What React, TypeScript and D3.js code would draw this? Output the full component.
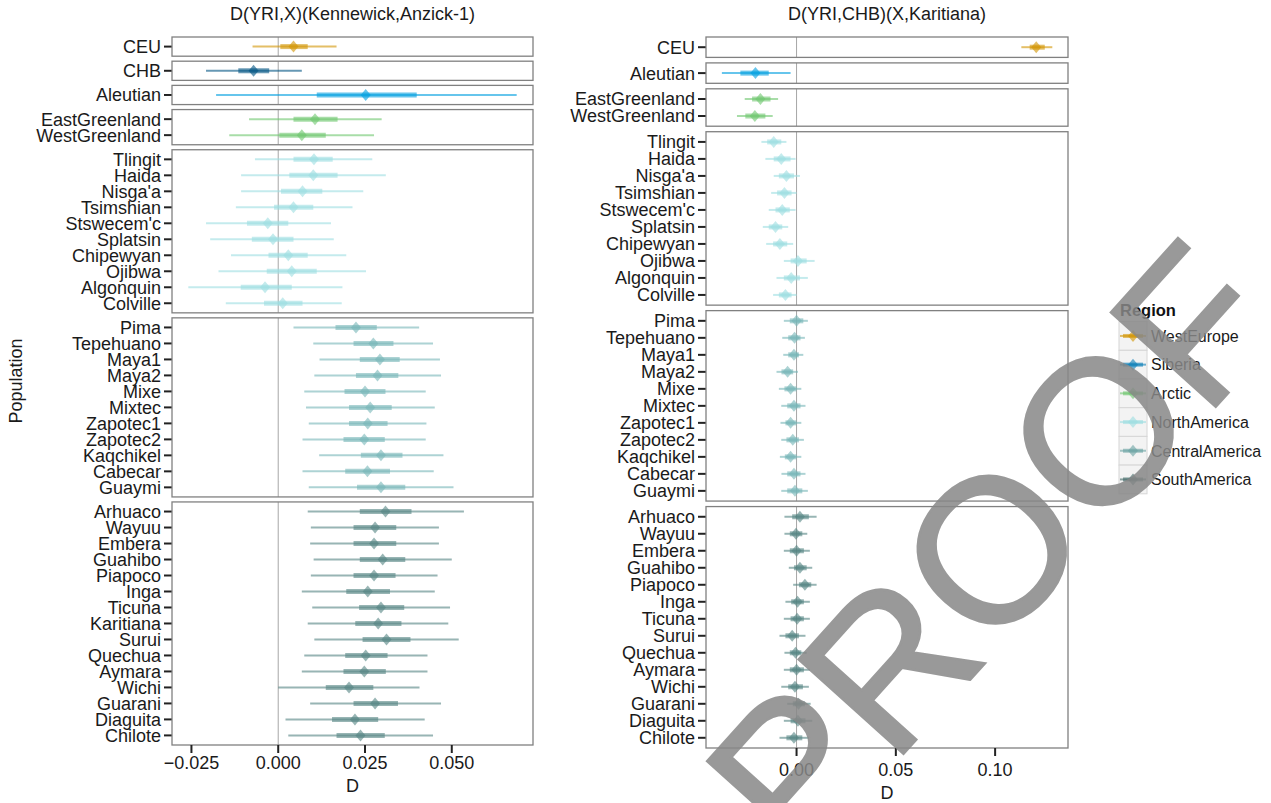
import React from "react";
import * as d3 from "d3";

const W = 1271;
const H = 803;

// ---- populations per facet ----
const westEurope = ["CEU"];
const eastAsia = ["CHB"];
const siberia = ["Aleutian"];
const arctic = ["EastGreenland", "WestGreenland"];
const northAmerica = ["Tlingit", "Haida", "Nisga'a", "Tsimshian", "Stswecem'c", "Splatsin", "Chipewyan", "Ojibwa", "Algonquin", "Colville"];
const centralAmerica = ["Pima", "Tepehuano", "Maya1", "Maya2", "Mixe", "Mixtec", "Zapotec1", "Zapotec2", "Kaqchikel", "Cabecar", "Guaymi"];
const southAmericaLeft = ["Arhuaco", "Wayuu", "Embera", "Guahibo", "Piapoco", "Inga", "Ticuna", "Karitiana", "Surui", "Quechua", "Aymara", "Wichi", "Guarani", "Diaguita", "Chilote"];
const southAmericaRight = ["Arhuaco", "Wayuu", "Embera", "Guahibo", "Piapoco", "Inga", "Ticuna", "Surui", "Quechua", "Aymara", "Wichi", "Guarani", "Diaguita", "Chilote"];

// ---- left: D(YRI,X)(Kennewick,Anzick-1) ----
const leftMid = [0.0044, -0.0071, 0.0252, 0.0106, 0.0068,
  0.0103, 0.0101, 0.0070, 0.0044, -0.0030, -0.0015, 0.0029, 0.0039, -0.0038, 0.0013,
  0.0224, 0.0274, 0.0293, 0.0286, 0.0250, 0.0265, 0.0258, 0.0248, 0.0296, 0.0257, 0.0296,
  0.0309, 0.0279, 0.0276, 0.0301, 0.0276, 0.0258, 0.0296, 0.0288, 0.0312, 0.0252, 0.0248, 0.0204, 0.0279, 0.0221, 0.0237];
const leftInnerLo = [0.0006, -0.0115, 0.0111, 0.0044, 0.0003,
  0.0044, 0.0032, 0.0008, -0.0012, -0.0090, -0.0076, -0.0028, -0.0033, -0.0108, -0.0041,
  0.0165, 0.0217, 0.0235, 0.0224, 0.0191, 0.0204, 0.0204, 0.0188, 0.0238, 0.0193, 0.0227,
  0.0235, 0.0217, 0.0217, 0.0235, 0.0217, 0.0196, 0.0233, 0.0222, 0.0243, 0.0193, 0.0188, 0.0137, 0.0217, 0.0155, 0.0168];
const leftInnerHi = [0.0085, -0.0026, 0.0399, 0.0171, 0.0137,
  0.0157, 0.0171, 0.0127, 0.0101, 0.0029, 0.0044, 0.0085, 0.0111, 0.0039, 0.0070,
  0.0284, 0.0332, 0.0350, 0.0346, 0.0309, 0.0327, 0.0315, 0.0307, 0.0358, 0.0322, 0.0366,
  0.0384, 0.0340, 0.0340, 0.0366, 0.0338, 0.0322, 0.0363, 0.0355, 0.0381, 0.0315, 0.0310, 0.0274, 0.0345, 0.0288, 0.0307];
const leftOuterLo = [-0.0074, -0.0208, -0.0179, -0.0084, -0.0141,
  -0.0067, -0.0107, -0.0107, -0.0122, -0.0208, -0.0196, -0.0136, -0.0172, -0.0259, -0.0151,
  0.0044, 0.0101, 0.0119, 0.0104, 0.0075, 0.0080, 0.0088, 0.0070, 0.0118, 0.0070, 0.0088,
  0.0085, 0.0094, 0.0092, 0.0102, 0.0094, 0.0068, 0.0098, 0.0085, 0.0104, 0.0075, 0.0068, 0.0000, 0.0092, 0.0021, 0.0029];
const leftOuterHi = [0.0168, 0.0068, 0.0687, 0.0298, 0.0276,
  0.0271, 0.0310, 0.0245, 0.0214, 0.0152, 0.0160, 0.0196, 0.0253, 0.0185, 0.0183,
  0.0406, 0.0446, 0.0466, 0.0469, 0.0425, 0.0451, 0.0427, 0.0425, 0.0476, 0.0448, 0.0505,
  0.0535, 0.0463, 0.0463, 0.0500, 0.0459, 0.0451, 0.0495, 0.0490, 0.0520, 0.0430, 0.0430, 0.0407, 0.0469, 0.0422, 0.0446];

// ---- right: D(YRI,CHB)(X,Karitiana) ----
const rightMid = [0.1207, -0.0207, -0.0182, -0.0210,
  -0.0115, -0.0077, -0.0051, -0.0061, -0.0072, -0.0106, -0.0084, 0.0007, -0.0027, -0.0056,
  0.0000, -0.0010, -0.0013, -0.0045, -0.0030, -0.0013, -0.0030, -0.0019, -0.0030, -0.0013, -0.0008,
  0.0017, -0.0003, 0.0000, 0.0017, 0.0042, 0.0005, 0.0003, -0.0022, -0.0005, 0.0000, -0.0008, 0.0010, 0.0007, -0.0013];
const rightInnerLo = [0.1174, -0.0283, -0.0224, -0.0258,
  -0.0148, -0.0115, -0.0089, -0.0098, -0.0106, -0.0140, -0.0118, -0.0030, -0.0064, -0.0089,
  -0.0034, -0.0042, -0.0042, -0.0076, -0.0061, -0.0047, -0.0056, -0.0051, -0.0059, -0.0047, -0.0047,
  -0.0022, -0.0034, -0.0034, -0.0013, 0.0012, -0.0027, -0.0030, -0.0056, -0.0034, -0.0034, -0.0042, -0.0019, -0.0030, -0.0051];
const rightInnerHi = [0.1250, -0.0140, -0.0131, -0.0157,
  -0.0077, -0.0030, -0.0013, -0.0025, -0.0034, -0.0072, -0.0047, 0.0051, 0.0017, -0.0025,
  0.0034, 0.0020, 0.0012, -0.0017, 0.0000, 0.0020, 0.0000, 0.0012, 0.0000, 0.0020, 0.0029,
  0.0062, 0.0029, 0.0037, 0.0051, 0.0074, 0.0037, 0.0037, 0.0012, 0.0024, 0.0037, 0.0032, 0.0042, 0.0045, 0.0029];
const rightOuterLo = [0.1132, -0.0376, -0.0261, -0.0300,
  -0.0177, -0.0157, -0.0115, -0.0128, -0.0140, -0.0170, -0.0153, -0.0064, -0.0101, -0.0118,
  -0.0064, -0.0072, -0.0067, -0.0101, -0.0089, -0.0077, -0.0081, -0.0077, -0.0084, -0.0076, -0.0077,
  -0.0061, -0.0061, -0.0064, -0.0039, -0.0017, -0.0056, -0.0064, -0.0086, -0.0061, -0.0064, -0.0077, -0.0047, -0.0064, -0.0086];
const rightOuterHi = [0.1288, -0.0030, -0.0093, -0.0120,
  -0.0051, -0.0005, 0.0017, 0.0000, -0.0005, -0.0042, -0.0017, 0.0091, 0.0057, 0.0000,
  0.0057, 0.0042, 0.0034, 0.0007, 0.0024, 0.0045, 0.0024, 0.0037, 0.0024, 0.0045, 0.0057,
  0.0101, 0.0054, 0.0067, 0.0079, 0.0101, 0.0067, 0.0067, 0.0045, 0.0051, 0.0067, 0.0062, 0.0071, 0.0079, 0.0062];

// ---- axis ticks ----
const leftTicks = [-0.025, 0, 0.025, 0.05];
const leftTickLabels = ["\u22120.025", "0.000", "0.025", "0.050"];
const rightTicks = [0, 0.05, 0.1];
const rightTickLabels = ["0.00", "0.05", "0.10"];

// ---- colours ----
const regionColors: Record<string, string> = {
  WestEurope: "#d29401",
  EastAsia: "#005482",
  Siberia: "#009fdf",
  Arctic: "#6ec66e",
  NorthAmerica: "#9ddee1",
  CentralAmerica: "#76b6b8",
  SouthAmerica: "#548482",
};
const legendRegions = ["WestEurope", "Siberia", "Arctic", "NorthAmerica", "CentralAmerica", "SouthAmerica"];
const legendColors = ["#d29401", "#0b7fb8", "#6ec66e", "#9ddee1", "#6aa3a3", "#3f6866"];

const FONT = "'Liberation Sans', Arial, Helvetica, sans-serif";
const FS = 18;
const ALPHA = 0.6;

type Group = { region: string; pops: string[] };

const leftGroups: Group[] = [
  { region: "WestEurope", pops: westEurope },
  { region: "EastAsia", pops: eastAsia },
  { region: "Siberia", pops: siberia },
  { region: "Arctic", pops: arctic },
  { region: "NorthAmerica", pops: northAmerica },
  { region: "CentralAmerica", pops: centralAmerica },
  { region: "SouthAmerica", pops: southAmericaLeft },
];
const rightGroups: Group[] = [
  { region: "WestEurope", pops: westEurope },
  { region: "Siberia", pops: siberia },
  { region: "Arctic", pops: arctic },
  { region: "NorthAmerica", pops: northAmerica },
  { region: "CentralAmerica", pops: centralAmerica },
  { region: "SouthAmerica", pops: southAmericaRight },
];

function diamond(cx: number, cy: number, hw = 5, hh = 6) {
  const p = d3.path();
  p.moveTo(cx, cy - hh);
  p.lineTo(cx + hw, cy);
  p.lineTo(cx, cy + hh);
  p.lineTo(cx - hw, cy);
  p.closePath();
  return p.toString();
}

function Facets(props: {
  title: string;
  x0: number;
  x1: number;
  top: number;
  bottom: number;
  labelOffset: number;
  domain: [number, number];
  groups: Group[];
  mid: number[];
  iLo: number[];
  iHi: number[];
  oLo: number[];
  oHi: number[];
  ticks: number[];
  tickLabels: string[];
  gap: number;
}) {
  const { title, x0, x1, top, bottom, labelOffset, domain, groups, mid, iLo, iHi, oLo, oHi, ticks, tickLabels, gap } = props;
  const x = d3.scaleLinear().domain(domain).range([x0, x1]);
  const units = d3.sum(groups, (g) => g.pops.length + 0.2);
  const s = (bottom - top - gap * (groups.length - 1)) / units;
  let yCursor = top;
  let k = 0;
  const panels = groups.map((g) => {
    const h = (g.pops.length + 0.2) * s;
    const y0 = yCursor;
    const rows = g.pops.map((name, i) => ({ name, cy: y0 + (0.6 + i) * s, idx: k++ }));
    yCursor += h + gap;
    return { y0, h, rows, color: regionColors[g.region] };
  });
  const cx = (x0 + x1) / 2;
  return (
    <g>
      <text x={cx} y={20} textAnchor="middle" fontSize={FS} fill="#1a1a1a" fontFamily={FONT}>
        {title}
      </text>
      {panels.map((p, pi) => (
        <g key={pi}>
          <rect x={x0} y={p.y0} width={x1 - x0} height={p.h} fill="#ffffff" />
          <line x1={x(0)} x2={x(0)} y1={p.y0} y2={p.y0 + p.h} stroke="#a6a6a6" strokeWidth={1} />
          {p.rows.map((r) => (
            <g key={r.name}>
              <line x1={x(oLo[r.idx])} x2={x(oHi[r.idx])} y1={r.cy} y2={r.cy} stroke={p.color} strokeOpacity={ALPHA} strokeWidth={2} />
              <line x1={x(iLo[r.idx])} x2={x(iHi[r.idx])} y1={r.cy} y2={r.cy} stroke={p.color} strokeOpacity={ALPHA} strokeWidth={5} />
              <path d={diamond(x(mid[r.idx]), r.cy)} fill={p.color} fillOpacity={ALPHA} />
              <line x1={x0 - 8} x2={x0} y1={r.cy} y2={r.cy} stroke="#222" strokeWidth={2} />
              <text x={x0 - 11} y={r.cy} dy="0.36em" textAnchor="end" fontSize={FS} fill="#1a1a1a" fontFamily={FONT}>
                {r.name}
              </text>
            </g>
          ))}
          <rect x={x0} y={p.y0} width={x1 - x0} height={p.h} fill="none" stroke="#808080" strokeWidth={1.3} />
        </g>
      ))}
      {ticks.map((t, i) => (
        <g key={t}>
          <line x1={x(t)} x2={x(t)} y1={bottom} y2={bottom + 8} stroke="#222" strokeWidth={2} />
          <text x={x(t)} y={bottom + labelOffset} textAnchor="middle" fontSize={FS} fill="#1a1a1a" fontFamily={FONT}>
            {tickLabels[i]}
          </text>
        </g>
      ))}
      <text x={cx} y={bottom + labelOffset + 23} textAnchor="middle" fontSize={FS} fill="#1a1a1a" fontFamily={FONT}>
        D
      </text>
    </g>
  );
}

function Legend() {
  const lx = 1119;
  const ly = 321.6;
  const kw = 28;
  const kh = 28.7;
  return (
    <g>
      <text x={1120} y={316} fontSize={16.5} fontWeight="bold" fill="#111" fontFamily={FONT}>
        Region
      </text>
      {legendRegions.map((r, i) => {
        const y = ly + i * kh;
        const c = legendColors[i];
        const cy = y + kh / 2;
        return (
          <g key={r}>
            <rect x={lx} y={y} width={kw} height={kh} fill="#f3f3f3" stroke="#d6d6d6" strokeWidth={1} />
            <line x1={lx + 1} x2={lx + kw - 1} y1={cy} y2={cy} stroke={c} strokeOpacity={ALPHA} strokeWidth={2} />
            <line x1={lx + 4} x2={lx + kw - 4} y1={cy} y2={cy} stroke={c} strokeOpacity={ALPHA} strokeWidth={4} />
            <path d={diamond(lx + kw / 2, cy)} fill={c} fillOpacity={ALPHA} />
            <text x={lx + kw + 4} y={cy} dy="0.36em" fontSize={16} fill="#1a1a1a" fontFamily={FONT}>
              {r}
            </text>
          </g>
        );
      })}
    </g>
  );
}

export default function App() {
  return (
    <svg width={W} height={H} style={{ position: "absolute", left: 0, top: 0, background: "#fff" }}>
      <rect x={0} y={0} width={W} height={H} fill="#ffffff" />
      <text
        transform={`translate(16, 381) rotate(-90)`}
        textAnchor="middle"
        dy="0.36em"
        fontSize={FS}
        fill="#1a1a1a"
        fontFamily={FONT}
      >
        Population
      </text>
      <Facets
        title="D(YRI,X)(Kennewick,Anzick-1)"
        x0={172}
        x1={533}
        top={37}
        bottom={745}
        labelOffset={24}
        domain={[-0.0306, 0.0734]}
        groups={leftGroups}
        mid={leftMid}
        iLo={leftInnerLo}
        iHi={leftInnerHi}
        oLo={leftOuterLo}
        oHi={leftOuterHi}
        ticks={leftTicks}
        tickLabels={leftTickLabels}
        gap={5}
      />
      <Facets
        title="D(YRI,CHB)(X,Karitiana)"
        x0={706}
        x1={1068}
        top={37}
        bottom={748}
        labelOffset={28}
        domain={[-0.0456, 0.1367]}
        groups={rightGroups}
        mid={rightMid}
        iLo={rightInnerLo}
        iHi={rightInnerHi}
        oLo={rightOuterLo}
        oHi={rightOuterHi}
        ticks={rightTicks}
        tickLabels={rightTickLabels}
        gap={5.5}
      />
      <Legend />
      <g transform="translate(990, 548) rotate(-48)" opacity={0.85}>
        <text
          x={0}
          y={0}
          dy="0.358em"
          textAnchor="middle"
          fontSize={205}
          fill="#888888"
          stroke="#888888"
          strokeWidth={2.5}
          fontFamily={FONT}
        >
          PROOF
        </text>
      </g>
    </svg>
  );
}
